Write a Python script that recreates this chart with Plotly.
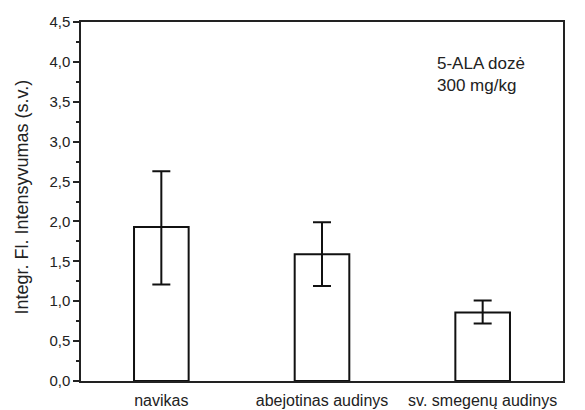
import plotly.graph_objects as go

categories = ["navikas", "abejotinas audinys", "sv. smegenų audinys"]
values = [1.93, 1.59, 0.86]
err_plus = [0.70, 0.40, 0.15]
err_minus = [0.72, 0.40, 0.14]

fig = go.Figure()
fig.add_trace(go.Bar(
    x=categories, y=values, width=0.34,
    marker=dict(color="white", line=dict(color="#111", width=2)),
    error_y=dict(type="data", symmetric=False, array=err_plus, arrayminus=err_minus,
                 color="#111", thickness=2, width=9),
))

font = "Liberation Sans, Arial, sans-serif"
fig.update_layout(
    width=585, height=410,
    margin=dict(l=81, r=22, t=22, b=29),
    plot_bgcolor="white", paper_bgcolor="white",
    separators=",.",
    showlegend=False,
    font=dict(family=font, size=15, color="#222"),
    xaxis=dict(range=[-0.5, 2.5], showline=True, linecolor="#222", linewidth=1.5,
               mirror=True, ticks="outside", ticklen=4, tickcolor="rgba(0,0,0,0)",
               showgrid=False, tickfont=dict(size=16), automargin=False),
    yaxis=dict(range=[0, 4.5], dtick=0.5, tickformat=".1f", showline=True,
               linecolor="#222", linewidth=1.5, mirror=True, ticks="outside",
               ticklen=6, tickwidth=1.5, tickcolor="#222", showgrid=False,
               zeroline=False, tickfont=dict(size=15), automargin=False,
               minor=dict(ticks="outside", dtick=0.25, ticklen=3, tickwidth=1.5,
                          tickcolor="#222", showgrid=False)),
    annotations=[
        dict(text="Integr. Fl. Intensyvumas (s.v.)", xref="paper", yref="paper",
             x=-0.1214, y=0.5125, textangle=-90, showarrow=False,
             font=dict(size=18, color="#222"), xanchor="center", yanchor="middle"),
        dict(text="5-ALA dozė<br>300 mg/kg", xref="paper", yref="paper",
             x=0.734, y=0.916, showarrow=False, align="left",
             xanchor="left", yanchor="top", font=dict(size=17, color="#222")),
    ],
)

fig.write_html("out.html")
